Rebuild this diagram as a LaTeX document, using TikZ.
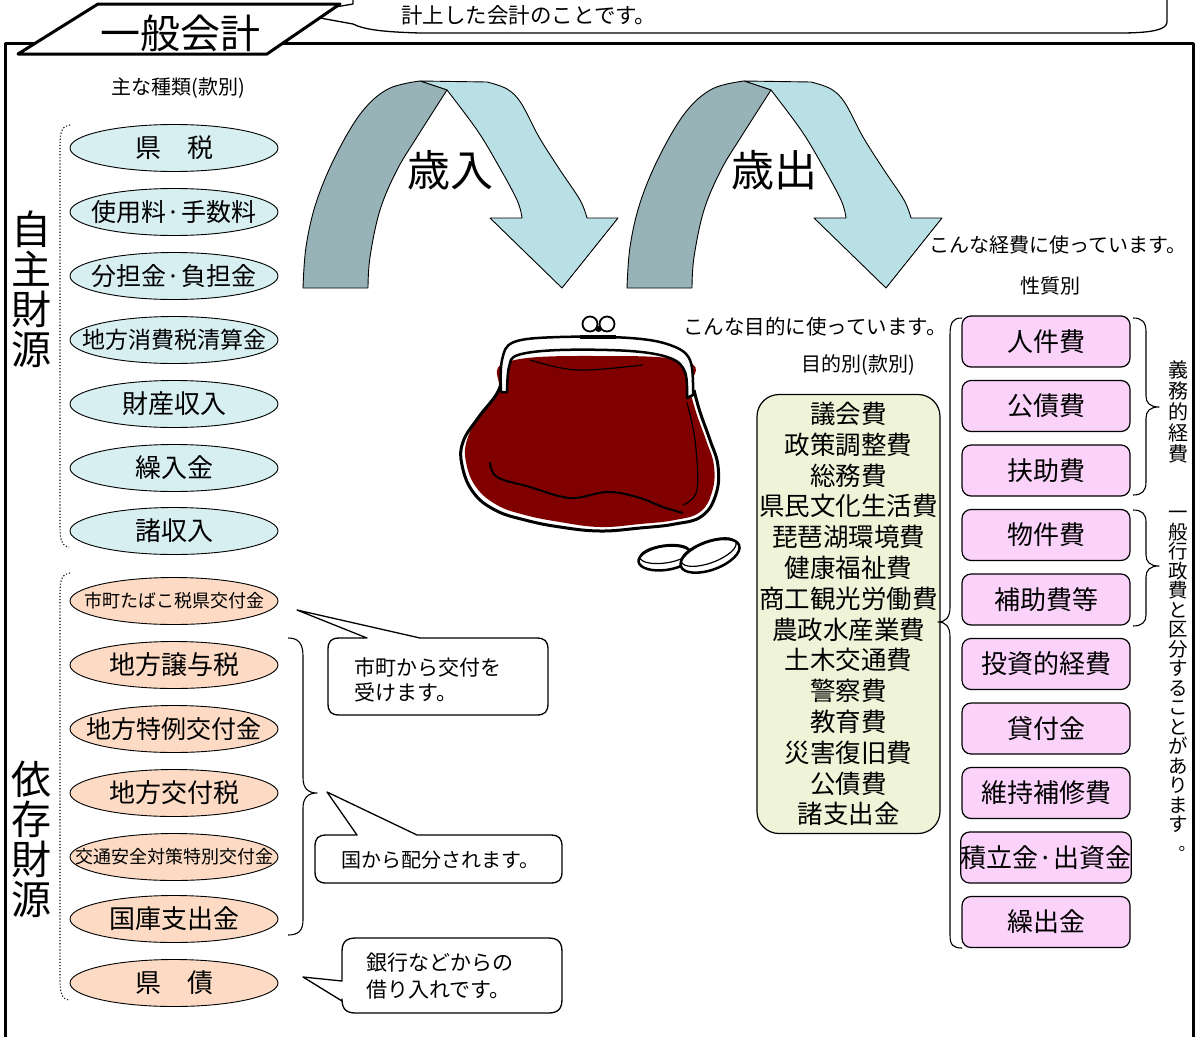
\documentclass[tikz,border=0pt]{standalone}
\usepackage{fontspec}
\setmainfont{Noto Sans CJK JP}
\usetikzlibrary{shapes.geometric}
\newcommand\jfs[1]{\fontsize{#1}{#1}\selectfont}
\definecolor{ownfill}{HTML}{D8EFF1}
\definecolor{depfill}{HTML}{FCDAC4}
\definecolor{greenfill}{HTML}{EFF4D9}
\definecolor{kindfill}{HTML}{FAD2FA}
\definecolor{arrowdark}{HTML}{97B3B7}
\definecolor{arrowlight}{HTML}{B9E0E4}
\definecolor{pursered}{HTML}{800000}
\newcommand\bendarrow{%
  % front (light) half of the ribbon with the arrow head
  \filldraw[fill=arrowlight, line width=0.9]
    (420,81) -- (487,82)
    -- plot[smooth, tension=0.6] coordinates {(487,82) (507,89) (521,103) (539,137) (560,170) (580,200) (587,218)}
    -- (618,218) -- (562,288) -- (490,218) -- (522,218)
    -- plot[smooth, tension=0.6] coordinates {(522,218) (517,200) (497,163) (477,130) (447,90)}
    -- cycle;
  % back (dark) half of the ribbon
  \filldraw[fill=arrowdark, line width=0.9]
    plot[smooth, tension=0.6] coordinates {(303,288) (306,247) (316,203) (335,157) (361,113) (388,89) (420,81)}
    -- (447,90)
    -- plot[smooth, tension=0.6] coordinates {(447,90) (417,137) (397,170) (380,210) (370,257) (368,288)}
    -- cycle;
}
\begin{document}
\begin{tikzpicture}[x=1pt,y=-1pt,line join=round,
  revenue/.style={ellipse, draw, line width=0.9, minimum width=208, minimum height=47, inner sep=0},
  ownsrc/.style={revenue, fill=ownfill},
  depsrc/.style={revenue, fill=depfill},
  kindbox/.style={draw, line width=1.2, rounded corners=9, fill=kindfill, minimum width=168, minimum height=51, inner sep=0, font=\jfs{26}},
  bubble/.style={draw, line width=1.3, fill=white},
  plain/.style={inner sep=0},
  bracket/.style={line width=1.1},
]
\useasboundingbox (0,0) rectangle (1198,1036);
\fill[white] (0,0) rectangle (1198,1036);

% outer frame
\draw[line width=3] (5.5,1040) -- (5.5,43.5) -- (1193.5,43.5) -- (1193.5,1040);

% description balloon of the title
\filldraw[fill=white, line width=1.3] (353,-2) -- (353,4) -- (283,16) -- (320,18) -- (353,24)
  .. controls (365,30) and (385,32) .. (420,33) -- (1120,33)
  .. controls (1150,33) and (1167,30) .. (1167,22) -- (1167,-2);
\node[plain, anchor=west, font=\jfs{21.5}] (desc) at (401,15) {計上した会計のことです。};

% title plate
\filldraw[fill=white, line width=3] (98,4) -- (340,4) -- (267,54) -- (18,54) -- cycle;
\node[plain, font=\jfs{40}] (title) at (180,33) {一般会計};

\node[plain, font=\jfs{20}] (kinds) at (178,88) {主な種類(款別)};

% revenue sources
\node[ownsrc] (o1) at (174,148) {\makebox[0pt]{\jfs{26}県　税}};
\node[ownsrc] (o2) at (174,212) {\makebox[0pt]{\jfs{25}使用料·手数料}};
\node[ownsrc] (o3) at (174,276) {\makebox[0pt]{\jfs{25}分担金·負担金}};
\node[ownsrc] (o4) at (174,340) {\makebox[0pt]{\jfs{23}地方消費税清算金}};
\node[ownsrc] (o5) at (174,404) {\makebox[0pt]{\jfs{26}財産収入}};
\node[ownsrc] (o6) at (174,468) {\makebox[0pt]{\jfs{26}繰入金}};
\node[ownsrc] (o7) at (174,531) {\makebox[0pt]{\jfs{26}諸収入}};

\node[depsrc] (d1) at (174,601) {\makebox[0pt]{\jfs{18}市町たばこ税県交付金}};
\node[depsrc] (d2) at (174,665) {\makebox[0pt]{\jfs{26}地方譲与税}};
\node[depsrc] (d3) at (174,729) {\makebox[0pt]{\jfs{25}地方特例交付金}};
\node[depsrc] (d4) at (174,793) {\makebox[0pt]{\jfs{26}地方交付税}};
\node[depsrc] (d5) at (174,857) {\makebox[0pt]{\jfs{18}交通安全対策特別交付金}};
\node[depsrc] (d6) at (174,919) {\makebox[0pt]{\jfs{26}国庫支出金}};
\node[depsrc] (d7) at (174,983) {\makebox[0pt]{\jfs{26}県　債}};

% group labels and dotted brackets
\node[plain, align=center, font=\fontsize{40}{40}\selectfont] (own) at (31,289) {自\\主\\財\\源};
\node[plain, align=center, font=\fontsize{40}{40}\selectfont] (dep) at (31,839) {依\\存\\財\\源};
\draw[bracket, dotted] (70,125) .. controls (62,126) and (60,132) .. (60,145) -- (60,527) .. controls (60,540) and (62,546) .. (69,547);
\draw[bracket, dotted] (70,573) .. controls (62,574) and (60,580) .. (60,593) -- (60,980) .. controls (60,993) and (62,999) .. (69,1000);

% brace over the national grants
\draw[bracket] (288,638) .. controls (298,638) and (303,643) .. (303,656) -- (303,778)
  .. controls (303,788) and (308,793) .. (317,793)
  .. controls (308,793) and (303,798) .. (303,808) -- (303,920)
  .. controls (303,931) and (298,935) .. (288,935);

% balloons
\draw[bubble] (367,638) -- (297,610) -- (420,638) -- (536,638)
  .. controls (545,638) and (548,641) .. (548,650) -- (548,703)
  .. controls (548,712) and (545,715) .. (536,715) -- (340,715)
  .. controls (331,715) and (328,712) .. (328,703) -- (328,650)
  .. controls (328,641) and (331,638) .. (340,638) -- cycle;
\node[plain, anchor=west, align=left, font=\fontsize{21}{25}\selectfont] (ba) at (354,680) {市町から交付を\\受けます。};

\draw[bubble] (357,835) -- (327,792) -- (417,835) -- (550,835)
  .. controls (559,835) and (562,838) .. (562,847) -- (562,871)
  .. controls (562,880) and (559,883) .. (550,883) -- (327,883)
  .. controls (318,883) and (315,880) .. (315,871) -- (315,847)
  .. controls (315,838) and (318,835) .. (327,835) -- cycle;
\node[plain, font=\jfs{20}] (bb) at (440,860) {国から配分されます。};

\draw[bubble] (342,1001) -- (303,977) -- (342,981) -- (342,952)
  .. controls (342,942) and (346,938) .. (356,938) -- (548,938)
  .. controls (558,938) and (562,942) .. (562,952) -- (562,999)
  .. controls (562,1009) and (558,1013) .. (548,1013) -- (356,1013)
  .. controls (346,1013) and (342,1009) .. (342,999) -- cycle;
\node[plain, anchor=west, align=left, font=\fontsize{21}{27}\selectfont] (bc) at (366,976) {銀行などからの\\借り入れです。};

% the two bent arrows
\bendarrow
\begin{scope}[shift={(324,0)}]
\bendarrow
\end{scope}
\node[plain, font=\jfs{43}] (rev) at (450,170) {歳入};
\node[plain, font=\jfs{43}] (exp) at (774,170) {歳出};

% purse
\fill[pursered] plot[smooth cycle, tension=0.7] coordinates {(507,362) (498,390) (480,415) (467,440) (466,462) (476,487) (497,505) (525,515) (560,522) (600,527) (640,524) (675,520) (700,512) (712,492) (714,466) (706,440) (696,412) (690,388) (688,362) (600,356)};
\draw[line width=3] plot[smooth, tension=0.7] coordinates {(502,380) (496,395) (478,418) (463,442) (462,465) (473,492) (495,510) (525,520) (560,527) (600,531) (640,528) (675,524) (702,516) (716,494) (718,466) (710,440) (700,412) (694,390)};
\draw[line width=1.2] plot[smooth, tension=0.6] coordinates {(530,360) (577,370) (643,365)};
\draw[line width=2] plot[smooth, tension=0.6] coordinates {(490,462) (497,477) (530,487) (570,498) (607,492) (637,497) (663,507) (683,513)};
\draw[line width=1.2] plot[smooth, tension=0.6] coordinates {(687,403) (695,440) (697,490) (683,505)};
\filldraw[fill=white, line width=2.5]
  plot[smooth, tension=0.6] coordinates {(501,392) (502,360) (514,342) (560,337) (630,338) (670,345) (690,360) (693,395)}
  -- plot[smooth, tension=0.6] coordinates {(687,398) (685,372) (670,358) (630,351) (560,350) (518,355) (509,367) (507,392)}
  -- cycle;
\fill (580,335) rectangle (616,339);
\filldraw[fill=white, line width=1.8] (590,324) circle[radius=7.5];
\filldraw[fill=white, line width=1.8] (607,324) circle[radius=7.5];
\fill (598.5,329) circle[radius=3];

% coins
\begin{scope}[rotate around={8:(665,556)}]
\filldraw[fill=white, line width=2.5] (665,558) ellipse[x radius=27, y radius=12];
\draw[line width=1.2] (665,554) ellipse[x radius=25, y radius=9];
\end{scope}
\begin{scope}[rotate around={20:(709,553)}]
\filldraw[fill=white, line width=2.5] (709,556) ellipse[x radius=31, y radius=14];
\draw[line width=1.2] (709,552) ellipse[x radius=29, y radius=11];
\end{scope}

% expenditure by purpose
\node[plain, font=\jfs{20.5}] (purposehead) at (815,327) {こんな目的に使っています。};
\node[plain, font=\jfs{20}] (purposekind) at (858,365) {目的別(款別)};
\node[draw, line width=1.2, rounded corners=22, fill=greenfill, minimum width=183, minimum height=439, inner sep=0, align=center, font=\fontsize{25.5}{30.8}\selectfont] (purpose) at (848.5,614)
  {議会費\\政策調整費\\総務費\\県民文化生活費\\琵琶湖環境費\\健康福祉費\\商工観光労働費\\農政水産業費\\土木交通費\\警察費\\教育費\\災害復旧費\\公債費\\諸支出金};

% expenditure by nature
\node[plain, font=\jfs{20}] (naturehead) at (1058,245) {こんな経費に使っています。};
\node[plain, font=\jfs{20}] (naturekind) at (1050,286) {性質別};
\node[kindbox] (k1) at (1046,341.5) {人件費};
\node[kindbox] (k2) at (1046,406) {公債費};
\node[kindbox] (k3) at (1046,470.5) {扶助費};
\node[kindbox] (k4) at (1046,535) {物件費};
\node[kindbox] (k5) at (1046,599.5) {補助費等};
\node[kindbox] (k6) at (1046,664) {投資的経費};
\node[kindbox] (k7) at (1046,728.5) {貸付金};
\node[kindbox] (k8) at (1046,793) {維持補修費};
\node[kindbox] (k9) at (1046,857.5) {積立金·出資金};
\node[kindbox] (k10) at (1046,922) {繰出金};

% brace joining the two classifications
\draw[bracket] (962,318) .. controls (953,318) and (950,322) .. (950,335) -- (950,607)
  .. controls (950,617) and (946,622) .. (938,622)
  .. controls (946,622) and (950,627) .. (950,637) -- (950,935)
  .. controls (950,945) and (953,948) .. (962,948);

% braces on the right
\draw[bracket] (1133,318) .. controls (1142,318) and (1146,322) .. (1146,332) -- (1146,396)
  .. controls (1146,403) and (1150,407) .. (1159,407)
  .. controls (1150,407) and (1146,411) .. (1146,418) -- (1146,482)
  .. controls (1146,491) and (1142,495) .. (1133,495);
\draw[bracket] (1133,510) .. controls (1142,510) and (1146,514) .. (1146,522) -- (1146,555)
  .. controls (1146,562) and (1150,566) .. (1159,566)
  .. controls (1150,566) and (1146,570) .. (1146,577) -- (1146,615)
  .. controls (1146,622) and (1142,626) .. (1133,626);

\node[plain, align=center, font=\fontsize{20}{21}\selectfont] (duty) at (1178,412) {義\\務\\的\\経\\費};
\node[plain, align=center, font=\fontsize{19.5}{19.5}\selectfont] (admin) at (1178,672)
  {一\\般\\行\\政\\費\\と\\区\\分\\す\\る\\こ\\と\\が\\あ\\り\\ま\\す};
\node[plain, font=\jfs{17}] (adminstop) at (1187,849) {。};
\end{tikzpicture}
\end{document}
